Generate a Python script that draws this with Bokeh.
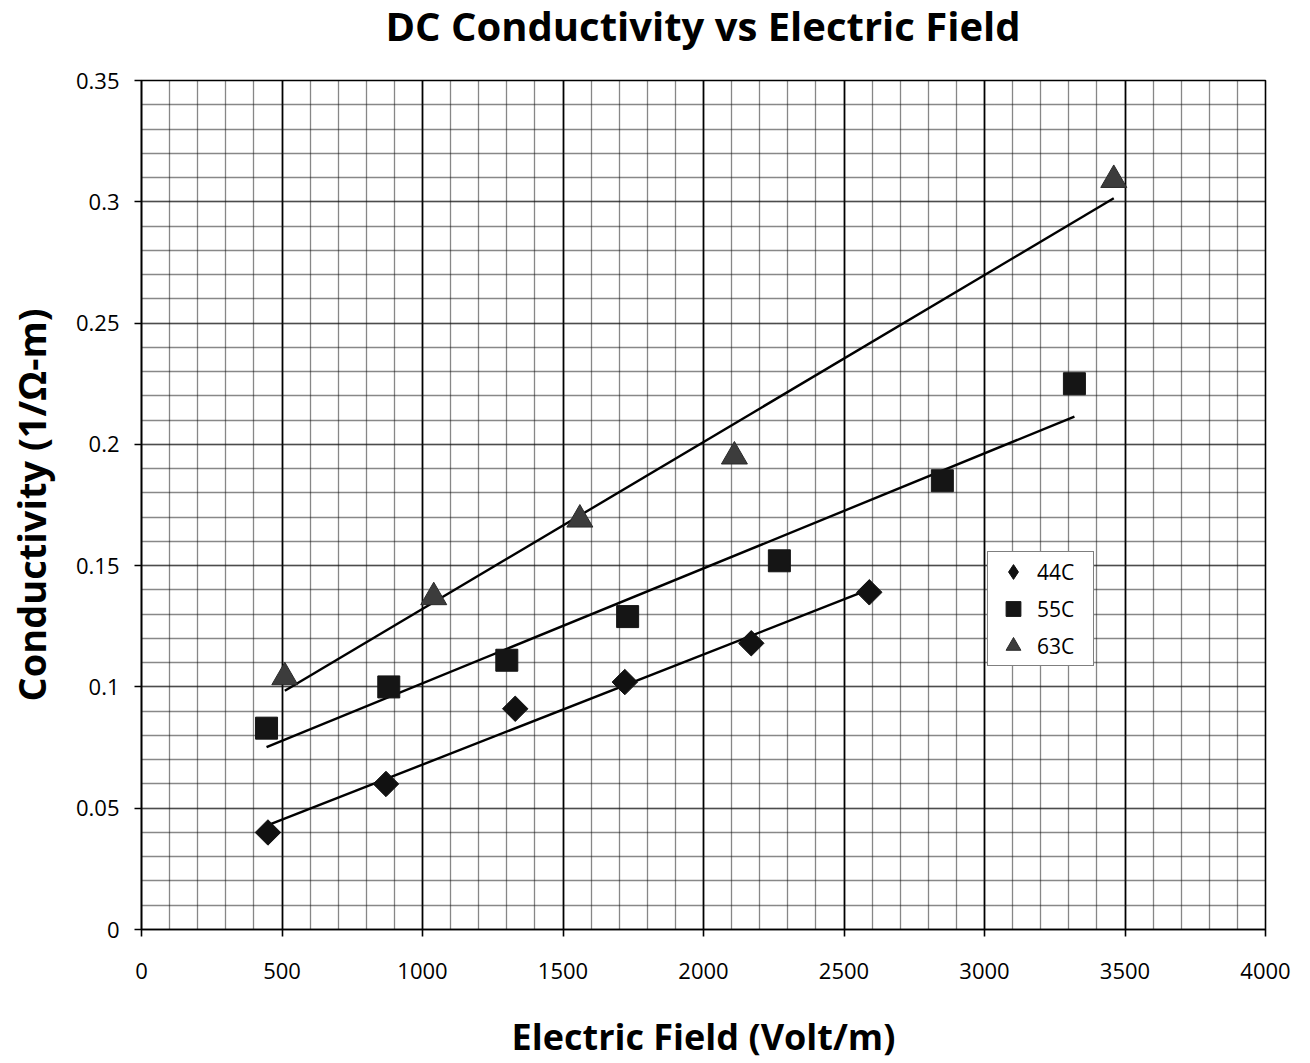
import numpy as np
from bokeh.plotting import figure
from bokeh.layouts import column
from bokeh.models import (Legend, LegendItem, FixedTicker, Range1d, Div)
from bokeh.embed import file_html
from bokeh.resources import INLINE

# Measured conductivity at three temperatures
field_44 = [450, 870, 1330, 1720, 2170, 2590]
cond_44 = [0.040, 0.060, 0.091, 0.102, 0.118, 0.139]

field_55 = [445, 880, 1300, 1730, 2270, 2850, 3320]
cond_55 = [0.083, 0.100, 0.111, 0.129, 0.152, 0.185, 0.225]

field_63 = [510, 1040, 1560, 2110, 3460]
cond_63 = [0.104, 0.137, 0.169, 0.195, 0.309]

series_labels = ["44C", "55C", "63C"]

x_ticks = [0, 500, 1000, 1500, 2000, 2500, 3000, 3500, 4000]
y_ticks = [0, 0.05, 0.1, 0.15, 0.2, 0.25, 0.3, 0.35]
y_tick_labels = ["0", "0.05", "0.1", "0.15", "0.2", "0.25", "0.3", "0.35"]

FONT = "Open Sans"

# Heading row, centred over the plotting area
heading = Div(text="DC Conductivity vs Electric Field",
              width=1124, height=60, margin=(0, 0, 0, 141),
              styles={"text-align": "center", "font-family": FONT,
                      "font-size": "40px", "font-weight": "bold",
                      "line-height": "40px", "padding-top": "6px",
                      "color": "black", "white-space": "nowrap"})

p = figure(width=1310, height=1003, output_backend="svg", toolbar_location=None,
           title=None,
           x_range=Range1d(0, 4000), y_range=Range1d(0, 0.35),
           min_border_left=141, min_border_right=45,
           min_border_top=20, min_border_bottom=133)

# Axes
p.xaxis.ticker = FixedTicker(ticks=x_ticks,
                             minor_ticks=list(range(0, 4001, 100)))
p.yaxis.ticker = FixedTicker(ticks=y_ticks,
                             minor_ticks=[round(i * 0.01, 2) for i in range(36)])
p.yaxis.major_label_overrides = {t: l for t, l in zip(y_ticks, y_tick_labels)}

for ax in (p.xaxis, p.yaxis):
    ax.axis_line_color = "black"
    ax.axis_line_width = 1.6
    ax.major_tick_line_color = "black"
    ax.major_tick_line_width = 1.6
    ax.major_tick_out = 7
    ax.major_tick_in = 0
    ax.minor_tick_line_color = None
    ax.major_label_text_font = FONT
    ax.major_label_text_font_size = "22px"
    ax.major_label_text_color = "black"
    ax.axis_label_text_font = FONT
    ax.axis_label_text_font_style = "bold"
    ax.axis_label_text_color = "black"

p.xaxis.axis_label = "Electric Field (Volt/m)"
p.yaxis.axis_label = "Conductivity (1/\u03a9-m)"
p.xaxis.axis_label_text_font_size = "36px"
p.yaxis.axis_label_text_font_size = "38px"
p.xaxis.major_label_standoff = 26
p.yaxis.major_label_standoff = 15
p.xaxis.axis_label_standoff = 30
p.yaxis.axis_label_standoff = 16

# Grid
p.xgrid.grid_line_color = "black"
p.xgrid.grid_line_width = 1.7
p.xgrid.minor_grid_line_color = "#111111"
p.xgrid.minor_grid_line_width = 1.3
p.xgrid.minor_grid_line_dash = "1 1"

p.ygrid.grid_line_color = "#111111"
p.ygrid.grid_line_width = 1.4
p.ygrid.grid_line_dash = "1 1"
p.ygrid.minor_grid_line_color = "#111111"
p.ygrid.minor_grid_line_width = 1.3
p.ygrid.minor_grid_line_dash = "1 1"

p.outline_line_color = "black"
p.outline_line_width = 1.6
p.background_fill_color = "white"
p.border_fill_color = "white"

# Linear trend lines over each series' range
for xs, ys in ((field_44, cond_44), (field_55, cond_55), (field_63, cond_63)):
    k, b = np.polyfit(xs, ys, 1)
    x_end = [min(xs), max(xs)]
    p.line(x_end, [k * x + b for x in x_end], line_color="black", line_width=2.4)

styles = [
    dict(marker="square", angle=np.pi / 4, size=18, fill_color="#111111", line_color="#111111"),
    dict(marker="square", angle=0.0, size=22, fill_color="#151515", line_color="#151515"),
    dict(marker="triangle", angle=0.0, size=26, fill_color="#3c3c3c", line_color="#2a2a2a"),
]
legend_markers = ["diamond", "square", "triangle"]

items = []
for xs, ys, st, lab, lm in zip((field_44, field_55, field_63),
                               (cond_44, cond_55, cond_63),
                               styles, series_labels, legend_markers):
    p.scatter(xs, ys, **st)
    # hidden twin that only supplies the legend key
    key = p.scatter(xs, ys, marker=lm, fill_color=st["fill_color"],
                    line_color=st["line_color"], visible=False)
    items.append(LegendItem(label=lab, renderers=[key]))

legend = Legend(items=items,
                location=(846, 263),
                border_line_color="black", border_line_width=1.6,
                background_fill_color="white", background_fill_alpha=1.0,
                inactive_fill_alpha=0.0,
                label_text_font=FONT, label_text_font_size="21px",
                label_text_color="black",
                glyph_width=48, glyph_height=37, label_width=55,
                spacing=0, padding=1, margin=0,
                label_standoff=0)
p.add_layout(legend, "center")

page = column(heading, p, spacing=0)

open("out.html", "w").write(file_html(page, INLINE))
